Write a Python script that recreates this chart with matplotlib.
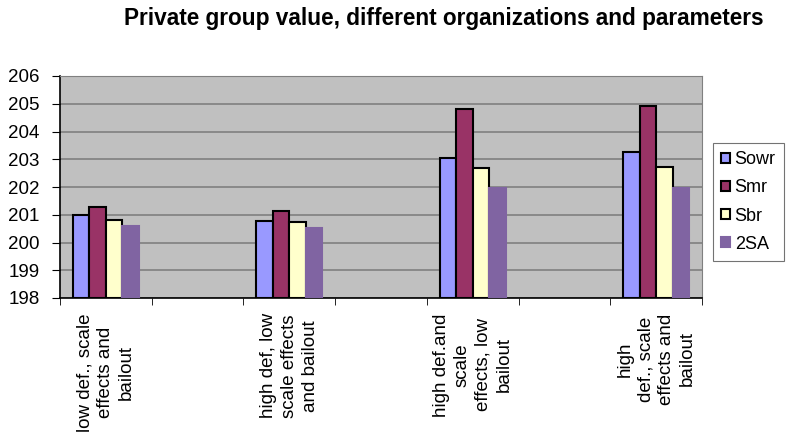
import numpy as np
import matplotlib
matplotlib.use("Agg")
import matplotlib.pyplot as plt

plt.rcParams['font.family'] = ['Liberation Sans', 'DejaVu Sans']

# categories (empty slots between the groups as in the original sheet)
categories = [
    "low def., scale\neffects and\nbailout",
    "",
    "high def, low\nscale effects\nand bailout",
    "",
    "high def.and\nscale\neffects, low\nbailout",
    "",
    "high\ndef., scale\neffects and\nbailout",
]
nan = np.nan
sowr = [201.0, nan, 200.77, nan, 203.03, nan, 203.27]
smr = [201.28, nan, 201.12, nan, 204.8, nan, 204.92]
sbr = [200.82, nan, 200.74, nan, 202.68, nan, 202.72]
two_sa = [200.6, nan, 200.52, nan, 201.97, nan, 201.98]

series = [("Sowr", sowr, "#9999FF", "black"),
          ("Smr", smr, "#993366", "black"),
          ("Sbr", sbr, "#FFFFCC", "black"),
          ("2SA", two_sa, "#8064A2", "#8064A2")]

fig = plt.figure(figsize=(7.86, 4.41), dpi=100)
ax = fig.add_axes([60 / 786, 1 - 298 / 441, 642 / 786, 222 / 441])
ax.set_facecolor("#C0C0C0")

x = np.arange(len(categories))
w = 0.18
for k, (name, vals, col, edge) in enumerate(series):
    vals = np.array(vals)
    ax.bar(x + (k - 1.5) * w, vals - 198, bottom=198, width=w,
           color=col, edgecolor=edge, linewidth=1.5, label=name, zorder=3)

ax.set_ylim(198, 206)
ax.set_yticks(range(198, 207))
ax.set_xlim(-0.5, len(categories) - 0.5)
ax.yaxis.grid(True, color="#808080", linewidth=1.2, zorder=0)
ax.set_axisbelow(True)

ax.set_xticks(x)
ax.set_xticklabels(categories, rotation=90, ha="center", va="top",
                   multialignment="center", fontsize=13.5, linespacing=1.3)
ax.tick_params(axis="x", length=0, pad=11)
ax.set_xticks(np.arange(-0.5, len(categories)), minor=True)
ax.tick_params(axis="x", which="minor", length=5, color="black", direction="out")
ax.tick_params(axis="y", labelsize=13.5, length=6, direction="out", pad=8.5)

for s in ["top", "right"]:
    ax.spines[s].set_color("#808080")
for s in ["left", "bottom"]:
    ax.spines[s].set_color("black")
    ax.spines[s].set_linewidth(1.2)

fig.text(444 / 786, 1 - 18 / 441, "Private group value, different organizations and parameters",
         ha="center", va="center", fontsize=16.3, fontweight="bold")

leg = fig.legend(loc="upper left", bbox_to_anchor=(713 / 786, 1 - 143 / 441),
                 fontsize=13, frameon=True, fancybox=False, borderpad=0.45,
                 labelspacing=0.62, handlelength=0.5, handleheight=0.5,
                 handletextpad=0.25, borderaxespad=0)
leg.get_frame().set_edgecolor("#505050")
leg.get_frame().set_linewidth(0.8)

fig.savefig("out.png", dpi=100)
